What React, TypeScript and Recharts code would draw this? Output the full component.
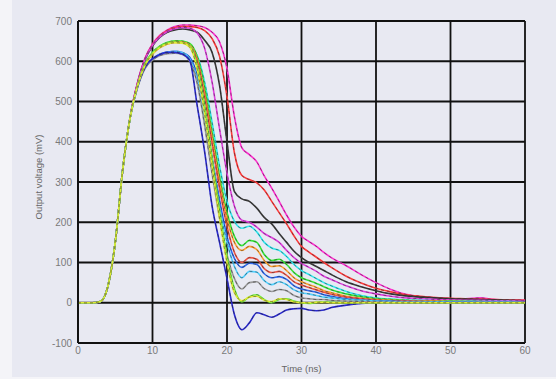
import React from 'react';
import { LineChart, Line, XAxis, YAxis, CartesianGrid } from 'recharts';

const TIME = [0,1,2,3,4,5,6,7,8,9,10,11,12,13,14,15,16,17,18,19,20,21,22,23,24,25,26,27,28,29,30,31,32,33,34,36,38,40,42,44,46,48,50,52,54,56,58,60];

const X_TICKS = [0, 10, 20, 30, 40, 50, 60];
const Y_TICKS = [-100, 0, 100, 200, 300, 400, 500, 600, 700];

const magenta = [0,0,0,3,40,150,330,462,548, 608,643,665,678,686,690, 690,688,684,672,648,582,462, 385,368,350,315,285,252,218,188,165,152,140,125,112, 92,70,50,33,21,15,12,10,10,12,8,7,6];
const red = [0,0,0,3,40,150,330,462,547, 606,641,663,676,683,686, 686,684,676,656,612,512,372, 316,306,298,280,252,224,196,166,140,126,113,100,88, 66,49,36,27,20,16,13,11,10,9,8,7,6];
const black = [0,0,0,3,40,150,330,461,545, 604,638,660,672,678,680, 678,672,652,622,540,400,276, 258,252,235,212,196,172,150,128,112,100,90,80,70, 52,40,30,22,17,14,12,10,9,8,7,6,5];
const pink = [0,0,0,3,40,150,330,461,546, 605,640,661,674,681,684, 682,670,632,548,432,322,240, 205,200,188,172,162,150,130,112,98,88,78,66,58, 42,30,22,16,12,10,8,7,6,6,5,5,4];
const cyan = [0,0,0,3,40,150,330,460,540, 592,620,636,645,649,648, 640,614,548,448,340,252,202, 185,190,176,150,136,130,115,95,80,70,60,50,42, 28,18,12,9,7,6,5,4,4,3,3,3,2];
const green = [0,0,0,3,40,150,330,460,540, 594,622,638,647,651,650, 644,612,535,425,315,225,165, 142,155,150,120,105,108,95,75,62,55,48,40,32, 22,15,10,8,6,5,4,4,3,3,2,2,2];
const orange = [0,0,0,3,40,150,330,460,540, 592,620,636,645,649,648, 640,605,520,410,300,210,150, 130,140,132,105,90,92,80,62,52,45,38,30,25, 16,11,8,6,5,4,4,3,3,2,2,2,2];
const salmon = [0,0,0,3,40,150,330,460,539, 590,618,634,643,647,646, 638,600,510,395,285,190,125, 100,112,108,85,75,78,68,52,44,38,32,26,21, 14,10,7,5,4,3,3,2,2,2,2,1,1];
const blue = [0,0,0,3,40,150,330,460,537, 585,606,618,623,625,622, 610,565,470,360,255,165,110, 88,98,95,72,62,65,58,42,34,30,26,20,16, 10,7,5,4,3,3,2,2,2,1,1,1,1];
const sky = [0,0,0,3,40,150,330,460,536, 584,605,617,622,624,621, 605,555,455,340,235,150,90, 62,78,76,55,45,52,45,32,25,22,18,14,12, 8,6,4,3,2,2,2,1,1,1,1,1,0];
const gray = [0,0,0,3,40,150,330,460,535, 582,603,614,619,620,617, 600,545,440,320,210,120,60, 34,50,52,35,28,33,30,18,12,10,8,8,6, 4,3,2,1,1,1,0,0,0,0,0,0,0];
const navy = [0,0,0,3,40,150,330,460,537, 585,606,617,622,622,618, 602,490,375,240,150,60,-30, -67,-50,-25,-30,-36,-28,-18,-15,-14,-18,-20,-18,-12, -6,-2,0,0,0,0,0,0,0,0,0,0,0];
const lime = [0,0,0,3,40,150,330,460,540, 592,620,636,645,648,646, 638,590,490,360,230,115,35, 2,15,20,8,0,8,10,4,0,-2,1,2,1, 0,0,0,0,0,0,0,0,0,0,0,0,0];
const yellow = [0,0,0,3,40,150,330,460,539, 590,618,634,643,646,645, 635,580,470,340,210,100,25, 5,14,16,6,3,10,8,2,0,0,1,1,0, 0,0,0,0,0,0,0,0,0,0,0,0,0];

const SERIES: { key: string; color: string; values: number[] }[] = [
  { key: 'magenta', color: '#ff2fd0', values: magenta },
  { key: 'red', color: '#ff3b3b', values: red },
  { key: 'black', color: '#3a3a3a', values: black },
  { key: 'pink', color: '#e040e0', values: pink },
  { key: 'cyan', color: '#30e8f0', values: cyan },
  { key: 'green', color: '#38e838', values: green },
  { key: 'orange', color: '#ffa030', values: orange },
  { key: 'salmon', color: '#f05545', values: salmon },
  { key: 'blue', color: '#2f6af0', values: blue },
  { key: 'sky', color: '#50d0ff', values: sky },
  { key: 'gray', color: '#9a9a9a', values: gray },
  { key: 'navy', color: '#2a2ad0', values: navy },
  { key: 'lime', color: '#70f040', values: lime },
  { key: 'yellow', color: '#e2ec34', values: yellow },
];

const data = TIME.map((t, i) => {
  const row: Record<string, number> = { t };
  SERIES.forEach((s) => {
    row[s.key] = s.values[i];
  });
  return row;
});

const FONT = 'Liberation Sans, Arial, sans-serif';

export default function App() {
  return (
    <div style={{ position: 'absolute', left: 0, top: 0, width: 556, height: 379, background: '#f4f4f8' }}>
      <div style={{ position: 'absolute', left: 12, top: 0, width: 544, height: 377, background: '#e8e9f2' }} />
      <div style={{ position: 'absolute', left: 0, top: 0 }}>
        <LineChart width={556} height={379} data={data} margin={{ top: 21, right: 31, left: 0, bottom: 0 }}>
          <CartesianGrid stroke="#111" strokeWidth={1.8} />
          <XAxis
            dataKey="t"
            type="number"
            domain={[0, 60]}
            ticks={X_TICKS}
            height={36}
            tickLine={false}
            tickSize={3}
            tickMargin={1}
            axisLine={{ stroke: '#111', strokeWidth: 1.8 }}
            tick={{ fill: '#7a7a7a', fontSize: 10, fontFamily: FONT }}
            label={{ value: 'Time (ns)', position: 'center', dy: 8, fill: '#666', fontSize: 9.5, fontFamily: FONT }}
          />
          <YAxis
            type="number"
            domain={[-100, 700]}
            ticks={Y_TICKS}
            width={78}
            tickLine={false}
            tickSize={4}
            tickMargin={2}
            axisLine={{ stroke: '#111', strokeWidth: 1.8 }}
            tick={{ fill: '#7a7a7a', fontSize: 10, fontFamily: FONT }}
            label={{ value: 'Output voltage (mV)', angle: -90, position: 'center', dx: 0, dy: -5, fill: '#666', fontSize: 9.5, fontFamily: FONT }}
          />
          {SERIES.flatMap((s) => [
            <Line
              key={s.key}
              dataKey={s.key}
              type="monotone"
              stroke={s.color}
              strokeWidth={1.6}
              dot={false}
              isAnimationActive={false}
            />,
            <Line
              key={s.key + '-d'}
              dataKey={s.key}
              type="monotone"
              stroke="#202020"
              strokeOpacity={0.6}
              strokeWidth={0.8}
              strokeDasharray="3 3"
              dot={false}
              isAnimationActive={false}
            />,
          ])}
        </LineChart>
      </div>
    </div>
  );
}
